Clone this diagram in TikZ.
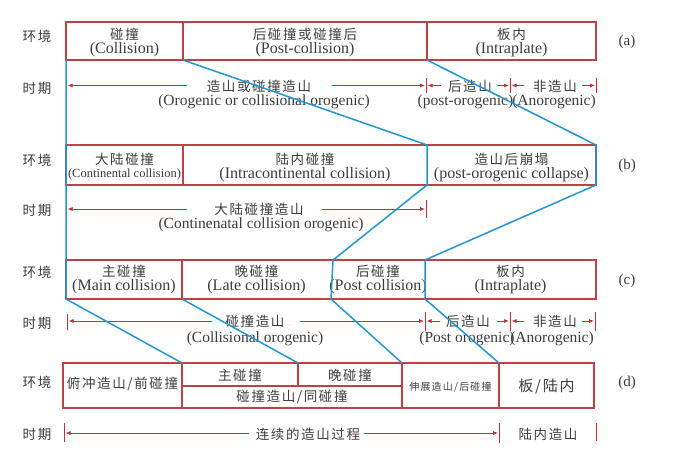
\documentclass[tikz,border=0pt]{standalone}
\usepackage{fontspec}
\setmainfont{Liberation Serif}
\newfontfamily\zh[LetterSpace=12]{Noto Sans CJK SC}
\usetikzlibrary{arrows.meta}
\definecolor{redc}{RGB}{192,64,72}
\definecolor{arrc}{RGB}{200,45,55}
\definecolor{bluec}{RGB}{35,150,205}
\definecolor{txt}{RGB}{60,60,60}
\tikzset{
  frame/.style={draw=redc, line width=1.2pt},
  blueline/.style={draw=bluec, line width=1.5pt, line join=round},
  arr/.style={draw=arrc, line width=0.8pt, -{Latex[length=5pt,width=4pt]}},
  tickline/.style={draw=arrc, line width=1pt},
  zhl/.style={font=\zh\fontsize{13.5}{15}\selectfont, text=txt, inner sep=0pt},
  zhs/.style={font=\zh\fontsize{10}{12}\selectfont, text=txt, inner sep=0pt},
  zhb/.style={font=\zh\fontsize{15}{16}\selectfont, text=txt, inner sep=0pt},
  enl/.style={font=\fontsize{16}{17}\selectfont, text=txt, inner sep=0pt},
  enp/.style={font=\fontsize{15.5}{16}\selectfont, text=txt, inner sep=0pt},
  ens/.style={font=\fontsize{12.5}{14}\selectfont, text=txt, inner sep=0pt},
  lab/.style={font=\fontsize{15}{16}\selectfont, text=txt, inner sep=0pt},
}
\begin{document}
\begin{tikzpicture}[x=1pt,y=-1pt]
\useasboundingbox[fill=white] (0,0) rectangle (673,453);

% ---------- side labels ----------
\foreach \n/\y in {ea/36,eb/160,ec/272,ed/382}{\node[zhl] (\n) at (37,\y) {环境};}
\foreach \n/\y in {ta/88,tb/210,tc/323,td/434}{\node[zhl] (\n) at (37,\y) {时期};}
\node[lab] (la) at (627,42) {(a)};
\node[lab] (lb) at (627,166) {(b)};
\node[lab] (lc) at (627,281) {(c)};
\node[lab] (ld) at (627,383) {(d)};

% ---------- corner coordinates ----------
\coordinate (a0t) at (66,22);  \coordinate (a0b) at (66,60);
\coordinate (a1t) at (183,22); \coordinate (a1b) at (183,60);
\coordinate (a2t) at (427,22); \coordinate (a2b) at (427,60);
\coordinate (a3t) at (596,22); \coordinate (a3b) at (596,60);
\coordinate (b0t) at (66,145); \coordinate (b0b) at (66,185);
\coordinate (b1t) at (183,145);\coordinate (b1b) at (183,185);
\coordinate (b2t) at (427,145);\coordinate (b2b) at (427,185);
\coordinate (b3t) at (596,145);\coordinate (b3b) at (596,185);
\coordinate (c0t) at (66,260); \coordinate (c0b) at (66,299);
\coordinate (c1t) at (182,260);\coordinate (c1b) at (182,299);
\coordinate (c2t) at (333,260);\coordinate (c2b) at (331,299);
\coordinate (c3t) at (425,260);\coordinate (c3b) at (425,299);
\coordinate (c4t) at (596,260);\coordinate (c4b) at (596,299);
\coordinate (d0t) at (63,363); \coordinate (d0b) at (63,408);
\coordinate (d1t) at (182,363);\coordinate (d1b) at (182,408);
\coordinate (d1m) at (182,386);
\coordinate (dmt) at (298,363);\coordinate (dmm) at (298,386);
\coordinate (d2t) at (402,363);\coordinate (d2b) at (402,408);
\coordinate (d2m) at (402,386);
\coordinate (d3t) at (499,363);\coordinate (d3b) at (499,408);
\coordinate (d4t) at (594,363);\coordinate (d4b) at (594,408);

% ---------- red frames ----------
\draw[frame] (a0t) rectangle (a3b) (a1t) -- (a1b) (a2t) -- (a2b);
\draw[frame] (b0t) rectangle (b3b) (b1t) -- (b1b);
\draw[frame] (c0t) rectangle (c4b) (c1t) -- (c1b);
\draw[frame] (d0t) rectangle (d4b) (d1t) -- (d1b) (d2t) -- (d2b) (d3t) -- (d3b)
  (d1m) -- (d2m) (dmt) -- (dmm);

% ---------- box texts (a) ----------
\node[zhl] (a1z) at (124.5,34.5) {碰撞};
\node[enl] (a1e) at (124.5,50) {(Collision)};
\node[zhl] (a2z) at (305,34.5) {后碰撞或碰撞后};
\node[enl] (a2e) at (305,50) {(Post-collision)};
\node[zhl] (a3z) at (511.5,34.5) {板内};
\node[enl] (a3e) at (511.5,50) {(Intraplate)};
% (b)
\node[zhl] (b1z) at (124.5,159) {大陆碰撞};
\node[ens] (b1e) at (124.5,174.5) {(Continental collision)};
\node[zhl] (b2z) at (305,159) {陆内碰撞};
\node[enl] (b2e) at (305,174.5) {(Intracontinental collision)};
\node[zhl] (b3z) at (511.5,159) {造山后崩塌};
\node[enl] (b3e) at (511.5,174.5) {(post-orogenic collapse)};
% (c)
\node[zhl] (c1z) at (124,271) {主碰撞};
\node[enl] (c1e) at (124,287) {(Main collision)};
\node[zhl] (c2z) at (256.5,271) {晚碰撞};
\node[enl] (c2e) at (256.5,287) {(Late collision)};
\node[zhl] (c3z) at (378,271) {后碰撞};
\node[enl] (c3e) at (378,287) {(Post collision)};
\node[zhl] (c4z) at (510.5,271) {板内};
\node[enl] (c4e) at (510.5,287) {(Intraplate)};
% (d)
\node[zhl] (d1z) at (122.5,384) {俯冲造山/前碰撞};
\node[zhl] (d2z) at (240,375) {主碰撞};
\node[zhl] (d3z) at (350,375) {晚碰撞};
\node[zhl] (d4z) at (292,397) {碰撞造山/同碰撞};
\node[zhs] (d5z) at (450.5,387) {伸展造山/后碰撞};
\node[zhb] (d6z) at (546.5,387) {板/陆内};

% ---------- period row (a) ----------
\node[zhl] (pa1) at (259,86.5) {造山或碰撞造山};
\node[enp] (pa1e) at (264,102) {(Orogenic or collisional orogenic)};
\node[zhl] (pa2) at (470,86.5) {后造山};
\node[enp] (pa2e) at (465.5,102) {(post-orogenic)};
\node[zhl] (pa3) at (555,86.5) {非造山};
\node[enp] (pa3e) at (554,102) {(Anorogenic)};
\coordinate (pak0) at (426,78); \coordinate (pak0b) at (426,93);
\coordinate (pak1) at (510,78); \coordinate (pak1b) at (510,93);
\coordinate (pak2) at (596,78); \coordinate (pak2b) at (596,93);
\draw[tickline] (pak0) -- (pak0b) (pak1) -- (pak1b) (pak2) -- (pak2b);
\draw[arr] (187,85.5) -- (67.5,85.5);
\draw[arr] (332,85.5) -- (425,85.5);
\draw[arr] (441,85.5) -- (427.5,85.5);
\draw[arr] (497,85.5) -- (509,85.5);
\draw[arr] (524,85.5) -- (511.5,85.5);
\draw[arr] (582,85.5) -- (595,85.5);

% ---------- period row (b) ----------
\node[zhl] (pb1) at (259,209) {大陆碰撞造山};
\node[enp] (pb1e) at (261,225) {(Continenatal collision orogenic)};
\coordinate (pbk0) at (426,200); \coordinate (pbk0b) at (426,218);
\draw[tickline] (pbk0) -- (pbk0b);
\draw[arr] (187,209) -- (67.5,209);
\draw[arr] (322,209) -- (425,209);

% ---------- period row (c) ----------
\node[zhl] (pc1) at (255,321) {碰撞造山};
\node[enp] (pc1e) at (255,339) {(Collisional orogenic)};
\node[zhl] (pc2) at (468,321) {后造山};
\node[enp] (pc2e) at (467,339) {(Post orogenic)};
\node[zhl] (pc3) at (555,321) {非造山};
\node[enp] (pc3e) at (552,339) {(Anorogenic)};
\draw[tickline] (67,314) -- (67,330) (425,312) -- (425,331)
  (510,312) -- (510,331) (595,312) -- (595,331);
\draw[arr] (212,321) -- (68.5,321);
\draw[arr] (300,321) -- (424,321);
\draw[arr] (440,321) -- (426.5,321);
\draw[arr] (497,321) -- (509,321);
\draw[arr] (524,321) -- (511.5,321);
\draw[arr] (582,321) -- (594,321);

% ---------- period row (d) ----------
\node[zhl] (pd1) at (308,434) {连续的造山过程};
\node[zhl] (pd2) at (548,434) {陆内造山};
\draw[tickline] (64,423) -- (64,442) (499,423) -- (499,443) (596,423) -- (596,441);
\draw[arr] (249,433) -- (65.5,433);
\draw[arr] (364,433) -- (498,433);

% ---------- blue correlation lines ----------
\draw[blueline] (a0b) -- (b0t) -- (b0b) -- (c0t) -- (c0b) -- (d1t);
\draw[blueline] (a1b) -- (b2t) -- (b2b) -- (c2t) -- (c2b) -- (d2t);
\draw[blueline] (a2b) -- (b3t) -- (b3b) -- (c3t) -- (c3b) -- (d3t);
\draw[blueline] (c1b) -- (dmt);
\end{tikzpicture}
\end{document}
